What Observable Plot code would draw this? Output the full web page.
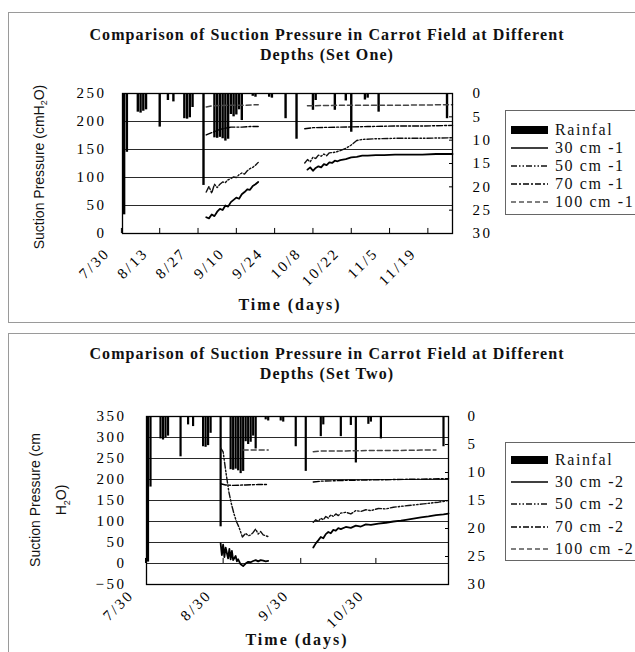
<!DOCTYPE html>
<html><head><meta charset="utf-8">
<script src="https://cdn.jsdelivr.net/npm/d3@7"></script>
<script src="https://cdn.jsdelivr.net/npm/@observablehq/plot@0.6"></script>
<style>
body{margin:0;background:#fff;}
#root{position:relative;width:635px;height:652px;overflow:hidden;background:#fff;font-family:"Liberation Serif",serif;color:#111;}
.box{position:absolute;border:1px solid #9a9a9a;}
.title{position:absolute;left:0;width:654px;text-align:center;font-weight:bold;font-size:16px;letter-spacing:1.1px;line-height:20px;white-space:nowrap;}
.xt{position:absolute;font-weight:bold;font-size:16px;letter-spacing:2px;white-space:nowrap;transform:translate(-50%,-50%);}
.yt{position:absolute;font-family:"Liberation Sans Narrow","Liberation Sans",sans-serif;font-size:14px;white-space:nowrap;text-align:center;transform:translate(-50%,-50%) rotate(-90deg);}
.leg{position:absolute;border:1px solid #666;background:#fff;}
.row{position:absolute;left:0;height:18px;display:flex;align-items:center;font-size:16px;letter-spacing:1.6px;white-space:nowrap;}
.row svg{margin:0 7px 0 5px;}
svg.plot{position:absolute;left:0;}
</style></head>
<body><div id="root"></div>
<script>
// ---------- data ----------
const rainDay = [1,2,6,7,8,9,14,17,19,23,24,25,26,30,34,35,36,37,38,39,40,41,42,43,44,48,49,54,55,60,64,70,71,78,82,84,89,90,94,119];
const rainMm  = [26,12.6,4,4.2,3.8,3.5,7.2,1.5,1.8,5.4,5.5,5.2,3,19.7,9.5,9.6,9.4,9.7,10.2,9.8,4.5,5,4.6,3.5,5.8,0.6,0.8,0.8,1,5.4,9.8,3.6,1.5,3.6,1.6,8.3,1.4,1,4,5.4];
const rainTicks = [0,5,10,15,20,25,30];

const ticks1 = ["7/30","8/13","8/27","9/10","9/24","10/8","10/22","11/5","11/19"];
const ticks2 = ["7/30","8/30","9/30","10/30"];
const yTicks1 = [0,50,100,150,200,250];
const yTicks2 = [-50,0,50,100,150,200,250,300,350];

// Set One
const s1Day30 = [31,32,33,34,35,36,37,38,39,40,41,42,43,44,45,46,47,48,49,50,51,68,69,70,71,72,73,74,75,76,77,78,79,80,82,84,86,88,90,93,96,100,105,110,115,121];
const s1Val30 = [29,27,34,31,39,44,42,50,48,56,60,64,62,70,74,79,78,85,88,92,null,114,118,112,117,120,118,124,122,127,126,130,129,131,133,136,137,139,139,140,140,141,141,141,142,142];
const s1Day50 = [31,32,33,34,35,36,37,38,39,40,41,42,43,44,45,46,47,48,49,50,51,67,68,69,70,71,72,73,74,75,76,78,80,82,84,86,88,92,100,110,121];
const s1Val50 = [74,84,72,88,82,88,92,91,96,98,101,100,105,108,106,112,116,118,122,127,null,126,132,128,136,134,140,138,142,139,144,145,148,152,158,166,168,169,170,170,171];
const s1Day70 = [31,33,36,40,44,47,50,51,67,70,80,90,100,110,121];
const s1Val70 = [176,180,186,190,190,191,191,null,187,189,190,191,192,192,193];
const s1Day100 = [31,33,40,45,50,51,68,80,100,121];
const s1Val100 = [226,228,229,229,230,null,228,229,229,230];

// Set Two
const s2Day30 = [30,30.5,31,31.5,32,33,33.5,34,34.5,35,36,36.5,37,38,39,40,41,42,43,44,45,46,47,48,49,50,67,68,69,70,71,72,73,74,75,76,77,78,80,82,84,86,88,90,93,96,99,102,104,107,110,113,116,119,121];
const s2Val30 = [48,20,45,15,38,12,35,10,30,8,18,5,10,-2,-6,0,4,3,6,8,5,8,7,5,6,null,38,48,55,63,60,70,75,72,80,78,84,82,87,85,90,88,93,92,95,97,100,102,104,107,110,112,115,117,119];
const s2Day50 = [30,31,32,33.3,34.3,35.3,36.3,37.3,38.7,40,41,42,43,44,45,46,47,48,49,50,67,68,69,70,71,72,73,74,75,76,77,78,80,82,84,86,88,90,93,96,99,102,105,108,111,114,117,121];
const s2Val50 = [275,266,222,170,142,119,100,87,63,72,66,68,74,82,70,76,68,66,64,null,98,104,100,108,104,112,108,116,112,118,114,120,122,118,126,124,128,126,131,130,134,136,138,140,142,144,146,150];
const s2Day70 = [30,32,35,40,45,49,50,67,70,80,90,100,110,121];
const s2Val70 = [190,187,186,187,188,188,null,194,196,198,199,200,201,202];
const s2Day100 = [39,44,49,50,67,70,80,90,100,110,116];
const s2Val100 = [270,270,270,null,266,268,268,269,269,270,270];

// ---------- helpers ----------
const base = Date.UTC(2002, 6, 30);
const at = d => new Date(base + d * 864e5);
const parseTick = s => d3.utcParse("%m/%d/%Y")(s + "/2002");
const fmt = d3.utcFormat("%-m/%-d");
const series = (days, vals) => days.map((d, i) => ({date: at(d), v: vals[i]}));

const styles = {
  s30: {stroke: "#000", strokeWidth: 1.8},
  s50: {stroke: "#111", strokeWidth: 1.4, strokeDasharray: "6,2,1.5,2,1.5,2"},
  s70: {stroke: "#000", strokeWidth: 1.4, strokeDasharray: "6,2,2,2"},
  s100: {stroke: "#444", strokeWidth: 1.5, strokeDasharray: "5,3"}
};

const root = document.getElementById("root");
function add(html) { root.insertAdjacentHTML("beforeend", html); }

function panel(cfg) {
  const {yMin, yMax} = cfg;
  const toV = r => yMax - r * (yMax - yMin) / 30;
  const rain = rainDay.map((d, i) => ({date: at(d), r: rainMm[i]}));
  const rightPos = rainTicks.map(toV);
  const tickDates = cfg.ticks.map(parseTick);
  const fig = Plot.plot({
    width: 635, height: cfg.height,
    marginLeft: cfg.left, marginRight: 635 - cfg.right, marginTop: cfg.mt, marginBottom: cfg.mb,
    x: {type: "utc", domain: [at(0.4), at(121)], label: null},
    y: {domain: [yMin, yMax], label: null},
    style: {fontFamily: "Liberation Serif, serif", fontSize: "15px", letterSpacing: "2.5px", color: "#000", background: "transparent", overflow: "visible", top: cfg.top + "px"},
    marks: [
      Plot.ruleY(cfg.grid, {stroke: "#2a2a2a", strokeWidth: 1}),
      Plot.ruleX(rain, {x: "date", y1: yMax, y2: d => toV(d.r), stroke: "#000", strokeWidth: cfg.barW}),
      Plot.line(cfg.s100, {x: "date", y: "v", ...styles.s100}),
      Plot.line(cfg.s70, {x: "date", y: "v", ...styles.s70}),
      Plot.line(cfg.s50, {x: "date", y: "v", ...styles.s50}),
      Plot.line(cfg.s30, {x: "date", y: "v", ...styles.s30}),
      Plot.ruleX(tickDates, {y1: cfg.axisAt, y2: cfg.axisAt + cfg.tickLen, stroke: "#000"}),
      Plot.frame({stroke: "#000", strokeWidth: 1.3}),
      Plot.axisY(cfg.yTicks, {anchor: "left", tickSize: 0, tickPadding: cfg.lp}),
      Plot.axisY(rightPos, {anchor: "right", tickSize: 0, tickPadding: cfg.rp, tickFormat: d => String(Math.round((yMax - d) * 30 / (yMax - yMin)))}),
      Plot.axisY(rightPos, {anchor: "right", tickSize: 4, dx: -4, tickFormat: () => ""}),
      Plot.axisX(tickDates, {anchor: "bottom", tickSize: 0, tickRotate: -45, tickPadding: cfg.xp, dx: cfg.xdx, tickFormat: fmt})
    ]
  });
  fig.classList.add("plot");
  root.appendChild(fig);
}

function legend(x, y, w, h, rowYs, suffix) {
  const sw = [
    `<svg width="37" height="8"><rect x="0" y="0" width="37" height="8" fill="#000"/></svg>`,
    `<svg width="37" height="8"><line x1="0" x2="37" y1="4" y2="4" stroke="#000" stroke-width="1.6"/></svg>`,
    `<svg width="37" height="8"><line x1="0" x2="37" y1="4" y2="4" stroke="#111" stroke-width="1.3" stroke-dasharray="6,2,1.5,2,1.5,2"/></svg>`,
    `<svg width="37" height="8"><line x1="0" x2="37" y1="4" y2="4" stroke="#000" stroke-width="1.3" stroke-dasharray="6,2,2,2"/></svg>`,
    `<svg width="37" height="8"><line x1="0" x2="37" y1="4" y2="4" stroke="#555" stroke-width="1.4" stroke-dasharray="5,3"/></svg>`
  ];
  const labels = ["Rainfal", "30 cm " + suffix, "50 cm " + suffix, "70 cm " + suffix, "100 cm " + suffix];
  let html = `<div class="leg" style="left:${x}px;top:${y}px;width:${w}px;height:${h}px">`;
  labels.forEach((t, i) => {
    html += `<div class="row" style="top:${rowYs[i] - y - 9}px">${sw[i]}<span>${t}</span></div>`;
  });
  add(html + "</div>");
}

// ---------- layout ----------
add(`<div class="box" style="left:8px;top:12px;width:640px;height:309px"></div>`);
add(`<div class="box" style="left:8px;top:333px;width:640px;height:330px"></div>`);
add(`<div class="title" style="top:25px">Comparison of Suction Pressure in Carrot Field at Different</div>`);
add(`<div class="title" style="top:45px">Depths (Set One)</div>`);
add(`<div class="title" style="top:344px">Comparison of Suction Pressure in Carrot Field at Different</div>`);
add(`<div class="title" style="top:364px">Depths (Set Two)</div>`);

panel({
  yMin: 0, yMax: 250, grid: [50,100,150,200], yTicks: yTicks1, ticks: ticks1,
  height: 225, top: 70, mt: 23, mb: 62, left: 122, right: 452,
  barW: 2.4, axisAt: 0, tickLen: 9, lp: 16, rp: 20, xp: 17, xdx: -14,
  s30: series(s1Day30, s1Val30), s50: series(s1Day50, s1Val50),
  s70: series(s1Day70, s1Val70), s100: series(s1Day100, s1Val100)
});
panel({
  yMin: -50, yMax: 350, grid: [0,50,100,150,200,250,300], yTicks: yTicks2, ticks: ticks2,
  height: 257, top: 395, mt: 21, mb: 68, left: 146, right: 448,
  barW: 2.2, axisAt: 0, tickLen: 12, lp: 20, rp: 19, xp: 8, xdx: -14,
  s30: series(s2Day30, s2Val30), s50: series(s2Day50, s2Val50),
  s70: series(s2Day70, s2Val70), s100: series(s2Day100, s2Val100)
});

add(`<div class="xt" style="left:290px;top:305px">Time (days)</div>`);
add(`<div class="xt" style="left:297px;top:640px">Time (days)</div>`);
add(`<div class="yt" style="left:40px;top:167px">Suction Pressure (cmH<sub style="font-size:9px">2</sub>O)</div>`);
add(`<div class="yt" style="left:51px;top:500px;line-height:26px">Suction Pressure (cm<br>H<sub style="font-size:9px">2</sub>O)</div>`);

legend(505, 110, 140, 103, [129,147,165,183,201], "-1");
legend(505, 442, 140, 117, [459,481,503,526,548], "-2");
</script></body></html>
